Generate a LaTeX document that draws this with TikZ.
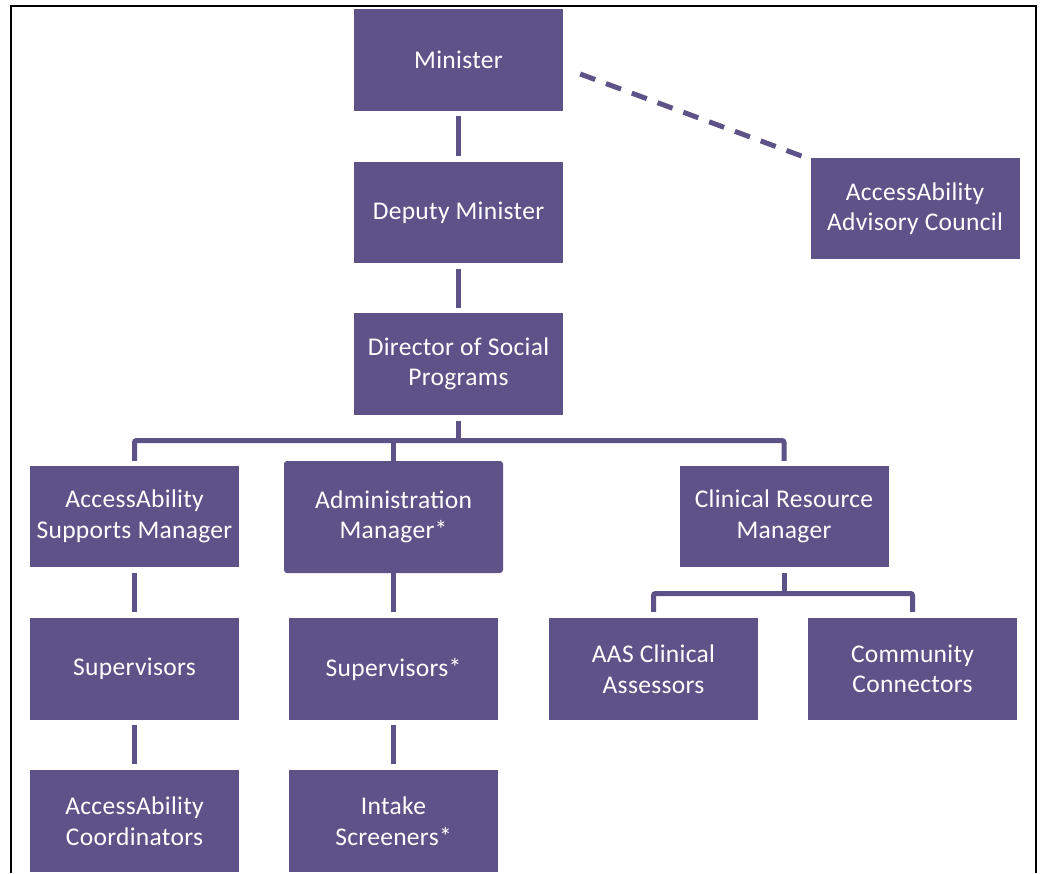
\documentclass[tikz,border=0pt]{standalone}
\usepackage{fontspec}
\setmainfont[LetterSpace=1.2]{Carlito}
\definecolor{boxpurple}{RGB}{94,83,137}
\begin{document}
\begin{tikzpicture}[x=1pt,y=-1pt,
  box/.style={rectangle, fill=boxpurple, text=white, inner sep=0pt,
    minimum width=209pt, minimum height=102pt, align=center,
    font=\fontsize{25.5}{30.5}\selectfont},
  conn/.style={draw=boxpurple, line width=5pt},
  tree/.style={conn, rounded corners=2pt},
  dashline/.style={draw=boxpurple, line width=5pt, dash pattern=on 16pt off 11.5pt},
  frame/.style={draw=black, line width=2.5pt}]
\useasboundingbox (0,0) rectangle (1041,873);
\draw[frame] (11,873) -- (11,6) -- (1036,6) -- (1036,873);

\node[box] (min) at (458.5,60) {Minister};
\node[box, minimum height=101pt] (dep) at (458.5,212.5) {Deputy Minister};
\node[box] (dir) at (458.5,364) {Director of Social\\Programs};
\node[box, minimum height=101pt] (adv) at (915,208.5) {AccessAbility\\Advisory Council};

\node[box, minimum height=101pt] (asm) at (134.5,516.5) {AccessAbility\\Supports Manager};
\node[box, minimum width=219pt, minimum height=112pt, rounded corners=3pt] (adm) at (393.5,517) {Administration\\Manager*};
\node[box, minimum height=101pt] (crm) at (784,516.5) {Clinical Resource\\Manager};

\node[box] (sup) at (134.5,669) {Supervisors};
\node[box] (sups) at (393.5,669) {Supervisors*};
\node[box] (aas) at (653.5,669) {AAS Clinical\\Assessors};
\node[box] (cc) at (912.5,669) {Community\\Connectors};

\node[box] (coo) at (134.5,821) {AccessAbility\\Coordinators};
\node[box] (scr) at (393.5,821) {Intake\\Screeners*};

\coordinate (bar1) at (458.5,440.5);
\coordinate (bar2) at (784,593.5);

% vertical chain
\draw[conn] ([yshift=-5pt]min.south) -- ([yshift=6pt]dep.north);
\draw[conn] ([yshift=-6pt]dep.south) -- ([yshift=5pt]dir.north);
\draw[conn] ([yshift=-6pt]dir.south) -- (bar1);
\draw[tree] ([yshift=5pt]asm.north) |- (bar1) -| ([yshift=5pt]crm.north);
\draw[conn] (adm.north) -- (adm.north |- bar1);

\draw[conn] ([yshift=-6pt]asm.south) -- ([yshift=6pt]sup.north);
\draw[conn] (adm.south) -- ([yshift=6pt]sups.north);
\draw[conn] ([yshift=-5pt]sup.south) -- ([yshift=6pt]coo.north);
\draw[conn] ([yshift=-5pt]sups.south) -- ([yshift=6pt]scr.north);

\draw[conn] ([yshift=-6pt]crm.south) -- (bar2);
\draw[tree] ([yshift=6pt]aas.north) |- (bar2) -| ([yshift=6pt]cc.north);

% dotted-line relation
\draw[dashline] ([xshift=17pt,yshift=-14pt]min.east) -- ([xshift=-4pt]adv.north west);
\end{tikzpicture}
\end{document}
